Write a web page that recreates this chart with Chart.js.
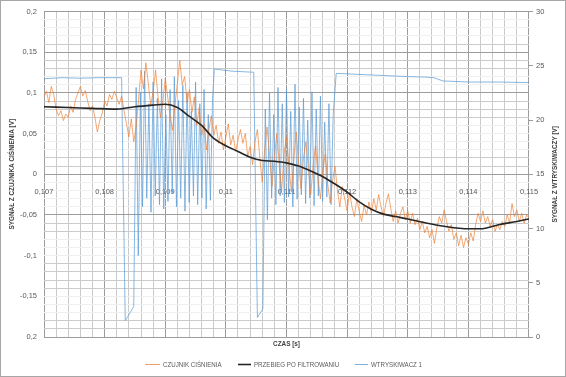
<!DOCTYPE html>
<html><head><meta charset="utf-8">
<script src="https://cdn.jsdelivr.net/npm/chart.js@4.4.1/dist/chart.umd.min.js"></script>
<style>html,body{margin:0;padding:0;background:#fff}canvas{display:block}</style>
</head><body>
<canvas id="c" width="566" height="377"></canvas>
<script>
// ---- DATA ----
const seriesNames = ['CZUJNIK CIŚNIENIA', 'PRZEBIEG PO FILTROWANIU', 'WTRYSKIWACZ 1'];
const xTitle = 'CZAS [s]';
const leftTitle = 'SYGNAŁ Z CZUJNIKA CIŚNIENIA [V]';
const rightTitle = 'SYGNAŁ Z WTRYSKIWACZY [V]';

// pressure sensor: uniform sampling
const sensorStart = 0.107;
const sensorStep = 0.00004;
const sensorValues = [
 0.095,0.102,0.088,0.108,0.098,0.080,0.072,0.078,0.066,0.074,
 0.070,0.084,0.076,0.092,0.100,0.108,0.096,0.103,0.090,0.078,
 0.084,0.070,0.052,0.066,0.075,0.090,0.084,0.098,0.092,0.102,
 0.094,0.086,0.096,0.078,0.062,0.046,0.068,0.040,0.058,0.092,
 0.128,0.105,0.137,0.112,0.084,0.102,0.128,0.096,0.070,0.088,
 0.118,0.095,0.072,0.054,0.085,0.112,0.140,0.110,0.120,0.088,
 0.104,0.076,0.095,0.060,0.082,0.048,0.062,0.030,0.055,0.072,
 0.048,0.060,0.038,0.052,0.030,0.046,0.062,0.036,0.048,0.028,
 0.042,0.055,0.038,0.050,0.022,0.034,0.012,0.040,0.055,0.020,
 -0.010,0.030,0.058,0.024,-0.015,0.020,0.050,0.012,-0.020,0.025,
 0.045,0.010,-0.022,0.018,0.052,0.015,-0.018,0.020,0.040,0.008,
 -0.025,0.012,0.035,-0.005,-0.030,0.005,0.025,-0.012,-0.035,-0.008,
 0.010,-0.020,-0.040,-0.015,-0.030,-0.045,-0.022,-0.040,-0.052,-0.030,
 -0.046,-0.058,-0.038,-0.050,-0.034,-0.048,-0.030,-0.044,-0.025,-0.040,
 -0.052,-0.036,-0.024,-0.042,-0.058,-0.045,-0.060,-0.048,-0.040,-0.056,
 -0.045,-0.060,-0.048,-0.062,-0.054,-0.068,-0.058,-0.072,-0.064,-0.078,
 -0.068,-0.085,-0.066,-0.052,-0.060,-0.044,-0.058,-0.070,-0.062,-0.080,
 -0.072,-0.088,-0.075,-0.090,-0.078,-0.086,-0.072,-0.082,-0.062,-0.048,
 -0.058,-0.045,-0.060,-0.052,-0.064,-0.056,-0.070,-0.062,-0.068,-0.058,
 -0.064,-0.050,-0.060,-0.036,-0.052,-0.044,-0.058,-0.048,-0.060,-0.050,
 -0.054
];

// filtered signal
const filteredTime = [0.1070,0.1074,0.1078,0.1082,0.1085,0.1088,0.1090,0.1092,0.1094,0.1096,0.1098,0.1100,0.1102,0.1104,0.1106,0.1108,0.1110,0.1112,0.1114,0.1116,0.1118,0.1120,0.1122,0.1124,0.1126,0.1128,0.1130,0.1133,0.1136,0.1140,0.1142,0.1145,0.1148,0.1150];
const filteredValues = [0.083,0.082,0.081,0.080,0.083,0.085,0.086,0.082,0.071,0.060,0.044,0.035,0.028,0.021,0.017,0.016,0.014,0.010,0.004,-0.003,-0.012,-0.022,-0.034,-0.043,-0.049,-0.052,-0.055,-0.060,-0.064,-0.067,-0.067,-0.062,-0.058,-0.055];

// injector voltage (right axis)
const injectorTime = [
 0.1070,0.1073,0.1076,0.1079,0.10828,0.10834,0.10848,
 0.10852,0.108555,0.10859,0.108625,0.10866,0.108695,0.10873,0.108765,0.10880,0.108835,
 0.10887,0.108905,0.10894,0.108975,0.10901,0.109045,0.10908,0.109115,0.10915,0.109185,
 0.10922,0.109255,0.10929,0.109325,0.10936,0.109395,0.10943,0.109465,0.10950,0.109535,
 0.10957,0.109605,0.10964,0.109675,0.10971,0.109745,0.10978,
 0.10981,0.1101,0.11046,0.11052,0.11061,
 0.11065,0.110685,0.11072,0.110755,0.11079,0.110825,0.11086,0.110895,0.11093,0.110965,
 0.11100,0.111035,0.11107,0.111105,0.11114,0.111175,0.11121,0.111245,0.11128,0.111315,
 0.11135,0.111385,0.11142,0.111455,0.11149,0.111525,0.11156,0.111595,0.11163,0.111665,
 0.11170,0.111735,0.11177,
 0.11182,0.1122,0.1126,0.1130,0.1133,0.11343,0.11358,0.1140,0.1145,0.1150
];
const injectorValues = [
 23.8,23.9,23.85,23.9,23.9,1.5,2.8,
 23.0,7.5,22.5,12.0,24.5,12.8,21.5,11.5,23.5,13.0,
 22.0,12.2,23.8,11.8,20.5,12.5,22.8,13.2,24.0,12.0,
 21.8,12.8,23.2,11.6,22.5,12.4,20.8,13.0,23.5,12.2,
 21.5,12.8,22.8,11.8,20.5,12.6,22.0,
 24.7,24.5,24.4,1.8,2.6,
 21.0,10.8,22.5,12.8,20.5,12.2,23.0,13.0,21.5,12.4,
 22.8,12.9,20.8,12.0,23.3,12.7,21.2,13.1,22.0,12.3,
 20.0,12.8,22.6,12.1,21.0,13.0,22.2,12.5,19.8,12.9,
 21.5,12.2,20.5,
 24.3,24.2,24.1,24.0,23.95,23.9,23.6,23.5,23.5,23.45
];

// axes and tick labels
const xMin = 0.107, xMax = 0.115, xMinor = 0.0002, xMajor = 0.001;
const yMin = -0.2, yMax = 0.2, yMinor = 0.01, yMajor = 0.05;
const y2Min = 0, y2Max = 30, y2Step = 5;
const xTickValues = [0.107, 0.108, 0.109, 0.110, 0.111, 0.112, 0.113, 0.114, 0.115];
const xTickLabels = ['0,107', '0,108', '0,109', '0,11', '0,111', '0,112', '0,113', '0,114', '0,115'];
const yTickValues = [0.2, 0.15, 0.1, 0.05, 0, -0.05, -0.1, -0.15, -0.2];
const yTickLabels = ['0,2', '0,15', '0,1', '0,05', '0', '-0,05', '-0,1', '-0,15', '0,2'];
// horizontal grid lines that show clearly in the reference
const yGridShown = [0.2,0.16,0.15,0.14,0.13,0.10,0.09,0.08,0.07,0.02,0.01,0,-0.05,-0.06,-0.07,-0.11,-0.12,-0.13,-0.14,-0.18,-0.19,-0.2];

// ---- STYLE ----
const FONT = "'Liberation Sans', Arial, sans-serif";
const MAJ = '#9c9c9c', MIN = '#cbcbcb', FAINT = '#efefef';
const LABEL = '#595959';
const C_SENSOR = 'rgba(237,125,49,0.75)';
const C_FILTER = '#262626';
const C_INJ = 'rgba(91,155,213,0.8)';

function near(a, b) { return Math.abs(a - b) < 1e-7; }
function isMult(v, s) { const r = v / s; return Math.abs(r - Math.round(r)) < 1e-6; }
function steps(a, b, s) { const n = Math.round((b - a) / s); const out = []; for (let i = 0; i <= n; i++) out.push(a + i * s); return out; }
function shown(v) { return yGridShown.some(g => near(g, v)); }
function labelFor(vals, labels, v) { const i = vals.findIndex(t => near(t, v)); return i < 0 ? '' : labels[i]; }

const sensorData = sensorValues.map((v, i) => ({ x: sensorStart + i * sensorStep, y: v }));
const filteredData = filteredTime.map((t, i) => ({ x: t, y: filteredValues[i] }));
const injectorData = injectorTime.map((t, i) => ({ x: t, y: injectorValues[i] }));

Chart.defaults.font.family = FONT;
Chart.defaults.font.size = 7.5;
Chart.defaults.color = LABEL;

function sqText(c, text, x, y, rot, sq) {
  c.save(); c.translate(x, y); if (rot) c.rotate(rot); c.scale(sq, 1); c.fillText(text, 0, 0); c.restore();
}

const decor = {
  id: 'decor',
  beforeDraw(chart) {
    const c = chart.ctx;
    c.save(); c.fillStyle = '#fff'; c.fillRect(0, 0, chart.width, chart.height); c.restore();
  },
  afterDraw(chart) {
    const c = chart.ctx, a = chart.chartArea;
    c.save();
    c.strokeStyle = '#a6a6a6'; c.lineWidth = 1;
    c.strokeRect(0.5, 0.5, chart.width - 1, chart.height - 1);
    c.fillStyle = '#404040';
    c.font = 'bold 7.5px ' + FONT;
    c.textAlign = 'center'; c.textBaseline = 'middle';
    const my = (a.top + a.bottom) / 2;
    sqText(c, xTitle, (a.left + a.right) / 2, 344, 0, 0.85);
    sqText(c, leftTitle, 12, my, -Math.PI / 2, 0.85);
    sqText(c, rightTitle, 555, my, -Math.PI / 2, 0.85);
    // legend
    const items = [
      { x0: 145, x1: 160, color: C_SENSOR, w: 1 },
      { x0: 238, x1: 251, color: C_FILTER, w: 1.6 },
      { x0: 355, x1: 368, color: C_INJ, w: 1 }
    ];
    c.font = '8px ' + FONT; c.textAlign = 'left';
    items.forEach((it, i) => {
      c.strokeStyle = it.color; c.lineWidth = it.w;
      c.beginPath(); c.moveTo(it.x0, 364.5); c.lineTo(it.x1, 364.5); c.stroke();
      c.fillStyle = LABEL; sqText(c, seriesNames[i], it.x1 + 3, 364.5, 0, 0.77);
    });
    c.restore();
  }
};

new Chart(document.getElementById('c'), {
  type: 'line',
  data: {
    datasets: [
      { label: seriesNames[1], data: filteredData, borderColor: C_FILTER, borderWidth: 1.6, yAxisID: 'y', xAxisID: 'x', order: 0, cubicInterpolationMode: 'monotone' },
      { label: seriesNames[0], data: sensorData, borderColor: C_SENSOR, borderWidth: 0.9, yAxisID: 'y', xAxisID: 'x', order: 1, tension: 0 },
      { label: seriesNames[2], data: injectorData, borderColor: C_INJ, borderWidth: 0.9, yAxisID: 'y1', xAxisID: 'x', order: 2, tension: 0 }
    ]
  },
  options: {
    responsive: false, animation: false, devicePixelRatio: 1,
    layout: { padding: { top: 9, bottom: 40, left: 0, right: 0 } },
    elements: { point: { radius: 0 } },
    plugins: { legend: { display: false }, tooltip: { enabled: false } },
    scales: {
      x: {
        type: 'linear', min: xMin, max: xMax, position: { y: 0 },
        afterBuildTicks: s => { s.ticks = steps(xMin, xMax, xMinor).map(v => ({ value: v })); },
        ticks: { display: false, autoSkip: false },
        grid: { color: ctx => (ctx.tick && isMult(ctx.tick.value, xMajor)) ? MAJ : MIN, drawTicks: false, lineWidth: 1 },
        border: { display: false }
      },
      x2: {
        type: 'linear', min: xMin, max: xMax, position: { y: 0 }, z: 1,
        afterBuildTicks: s => { s.ticks = xTickValues.map(v => ({ value: v })); },
        ticks: { autoSkip: false, maxRotation: 0, padding: 5, callback: v => labelFor(xTickValues, xTickLabels, v), color: LABEL },
        grid: { display: false }, border: { display: false }
      },
      y: {
        type: 'linear', position: 'left', min: yMin, max: yMax,
        afterBuildTicks: s => { s.ticks = steps(yMin, yMax, yMinor).map(v => ({ value: v })); },
        afterFit: s => { s.width = 44; },
        ticks: { autoSkip: false, padding: 7, callback: v => labelFor(yTickValues, yTickLabels, v) },
        grid: {
          color: ctx => {
            if (!ctx.tick) return MIN;
            const v = ctx.tick.value;
            if (!shown(v)) return FAINT;
            return isMult(v, yMajor) ? MAJ : MIN;
          },
          drawTicks: false, lineWidth: 1
        },
        border: { display: false }
      },
      y1: {
        type: 'linear', position: 'right', min: y2Min, max: y2Max,
        afterFit: s => { s.width = 37; },
        ticks: { stepSize: y2Step, padding: 3 },
        grid: { drawOnChartArea: false, drawTicks: true, tickLength: 4, color: MAJ },
        border: { display: false }
      }
    }
  },
  plugins: [decor]
});
</script>
</body></html>
